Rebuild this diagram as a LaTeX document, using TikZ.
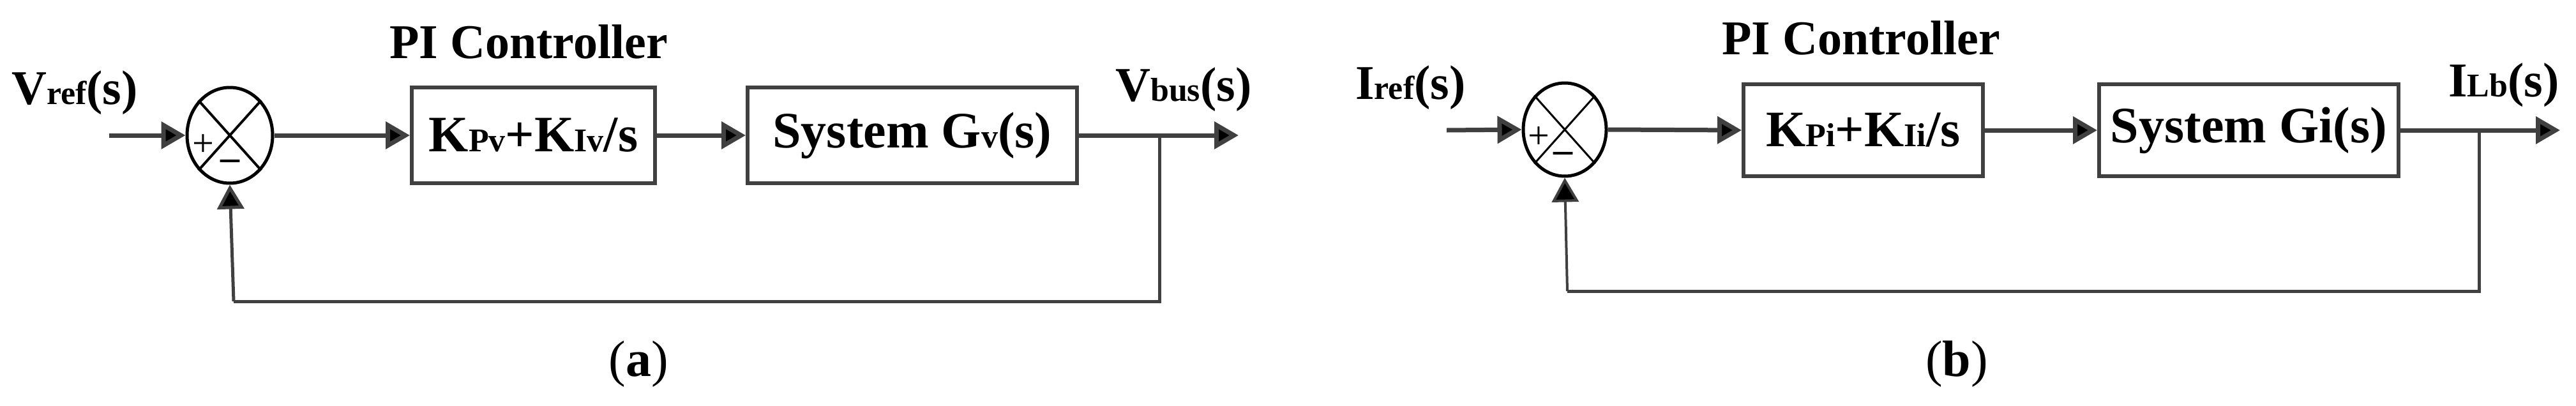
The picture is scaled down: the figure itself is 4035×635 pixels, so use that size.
\documentclass[tikz,border=0pt]{standalone}
\usepackage{fontspec}
\setmainfont{Liberation Serif}
\usetikzlibrary{arrows.meta,shapes.geometric}
\tikzset{
  wire/.style={line width=7pt, draw=black!75, -{Triangle[length=38pt,width=42pt,fill=black]}},
  fb/.style={line width=5pt, draw=black!75},
  blockbox/.style={draw=black!75, line width=6pt, minimum height=150pt, inner sep=0pt, font=\fontsize{80}{90}\selectfont\bfseries},
  lbl/.style={inner sep=0pt, font=\fontsize{76}{86}\selectfont\bfseries},
  captxt/.style={inner sep=0pt, font=\fontsize{80}{90}\selectfont},
  sumj/.style={draw=black, line width=5pt, ellipse, minimum width=134pt, minimum height=150pt, inner sep=0pt, fill=white},
}
\newcommand{\sm}[1]{{\fontsize{52}{60}\selectfont #1}}
\begin{document}
\begin{tikzpicture}[x=1pt,y=-1pt]
\useasboundingbox (0,0) rectangle (4035,635);
% ---------- panel (a)
\node[sumj] (sa) at (360,212) {};
\draw[line width=4pt] (sa.north west) -- (sa.south east) (sa.north east) -- (sa.south west);
\node[inner sep=0pt, font=\fontsize{60}{60}\selectfont] (pa) at (318,228) {+};
\node[inner sep=0pt, font=\fontsize{60}{60}\selectfont\bfseries] (ma) at (360,258) {--};
\node[blockbox, minimum width=381pt] (ca) at (835.5,212) {K\sm{Pv}+K\sm{Iv}/s};
\node[blockbox, minimum width=516pt] (ga) at (1429,212) {System G\sm{v}(s)};
\coordinate (ina) at (171,212);
\coordinate (tapa) at (1816,212);
\coordinate (outa) at (1940,212);
\coordinate (fba) at (1816,472);
\coordinate (fbsa) at (366,472);
\draw[wire] (ina) -- (sa.west);
\draw[wire] (sa.east) -- (ca.west);
\draw[wire] (ca.east) -- (ga.west);
\draw[wire] (ga.east) -- (outa);
\draw[fb] (tapa) -- (fba) -- (fbsa);
\draw[wire, line width=5pt] (fbsa) -- (sa.south);
\node[lbl, anchor=south west] (vref) at (18,180) {V\sm{ref}(s)};
\node[lbl, anchor=south west] (vbus) at (1747,175) {V\sm{bus}(s)};
\node[lbl, anchor=south west] (pia) at (610,92) {PI Controller};
\node[captxt] (la) at (1000,570) {(\textbf{a})};
% ---------- panel (b)
\node[sumj, minimum width=130pt, minimum height=146pt] (sb) at (2451,203) {};
\draw[line width=3pt] (sb.north west) -- (sb.south east) (sb.north east) -- (sb.south west);
\node[inner sep=0pt, font=\fontsize{60}{60}\selectfont] (pb) at (2410,216) {+};
\node[inner sep=0pt, font=\fontsize{60}{60}\selectfont\bfseries] (mb) at (2448,246) {--};
\node[blockbox, minimum width=375pt, minimum height=144pt] (cb) at (2918.5,204) {K\sm{Pi}+K\sm{Ii}/s};
\node[blockbox, minimum width=469pt, minimum height=144pt] (gb) at (3522.5,204) {System Gi(s)};
\coordinate (inb) at (2266,204);
\coordinate (tapb) at (3883,204);
\coordinate (outb) at (4010,204);
\coordinate (fbb) at (3883,456);
\coordinate (fbsb) at (2455,456);
\draw[wire] (inb) -- (sb.west);
\draw[wire] (sb.east) -- (cb.west);
\draw[wire] (cb.east) -- (gb.west);
\draw[wire] (gb.east) -- (outb);
\draw[fb] (tapb) -- (fbb) -- (fbsb);
\draw[wire, line width=4pt] (fbsb) -- (sb.south);
\node[lbl, anchor=south west] (iref) at (2123,172) {I\sm{ref}(s)};
\node[lbl, anchor=south west] (ilb) at (3835,168) {I\sm{Lb}(s)};
\node[lbl, anchor=south west] (pib) at (2697,86) {PI Controller};
\node[captxt] (lb) at (3065,570) {(\textbf{b})};
\end{tikzpicture}
\end{document}
